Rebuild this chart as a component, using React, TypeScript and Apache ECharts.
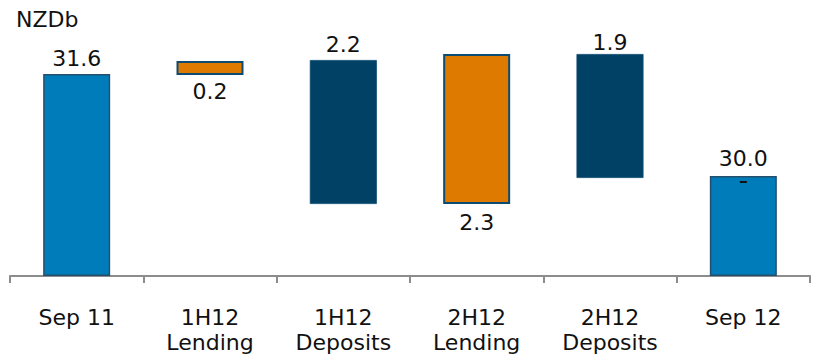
import React, { useEffect, useRef } from "react";
import * as echarts from "echarts";

// Categories (x axis)
const categories = ["Sep 11", "1H12\nLending", "1H12\nDeposits", "2H12\nLending", "2H12\nDeposits", "Sep 12"];
// Value labels shown on the bars (NZDb)
const valueLabels = ["31.6", "0.2", "2.2", "2.3", "1.9", "30.0"];
// Floating bar extents as drawn in the reference (chart units, hidden axis; axis is broken in original)
const barLow = [0, 201, 72, 72, 98, 0];
const barHigh = [202, 215, 216, 222, 222, 100];
// Kind of each bar: total, lending (decrease), deposits (increase)
const barKind = ["total", "lending", "deposits", "lending", "deposits", "total"];
// Label side for each bar and its gap
const labelSide = ["top", "bottom", "top", "bottom", "top", "top"];
const labelGap = [5, 5, 5, 7, 1, 7];

const FONT = "DejaVu Sans";
const FS = 22;

const styles: Record<string, any> = {
  total: { color: "#007CBA", borderColor: "#24506E", borderWidth: 1.5 },
  lending: { color: "#DF7A00", borderColor: "#0E4B72", borderWidth: 2 },
  deposits: { color: "#004165", borderColor: "#0A4A6E", borderWidth: 0.8 },
};

export default function App() {
  const ref = useRef<HTMLDivElement>(null);
  useEffect(() => {
    if (!ref.current) return;
    const chart = echarts.init(ref.current, undefined, { renderer: "svg" });
    const visible = barHigh.map((h, i) => ({
      value: h - barLow[i],
      itemStyle: styles[barKind[i]],
      label: {
        show: true,
        position: labelSide[i],
        distance: labelGap[i],
        formatter: valueLabels[i],
        fontFamily: FONT,
        fontSize: FS,
        color: "#111",
      },
    }));
    chart.setOption({
      animation: false,
      textStyle: { fontFamily: FONT },
      grid: {
        left: 10,
        right: 8,
        top: 10,
        bottom: 80,
        containLabel: false,
        outerBoundsMode: "none",
      },
      graphic: [
        {
          type: "text",
          left: 16,
          top: 8,
          style: { text: "NZDb", fontFamily: FONT, fontSize: FS, fill: "#111" },
        },
      ],
      xAxis: {
        type: "category",
        data: categories,
        boundaryGap: true,
        axisLine: { lineStyle: { color: "#8C8C8C", width: 2 } },
        axisTick: { show: true, length: 7, lineStyle: { color: "#8C8C8C", width: 2 } },
        axisLabel: {
          fontFamily: FONT,
          fontSize: FS,
          color: "#111",
          margin: 29,
          lineHeight: 25,
          interval: 0,
        },
      },
      yAxis: {
        type: "value",
        min: 0,
        max: 266,
        show: false,
        splitLine: { show: false },
      },
      series: [
        {
          type: "bar",
          stack: "w",
          data: barLow,
          barWidth: 67,
          itemStyle: { color: "transparent", borderWidth: 0 },
          emphasis: { disabled: true },
          silent: true,
        },
        {
          type: "bar",
          stack: "w",
          data: visible,
          barWidth: 67,
          markPoint: {
            silent: true,
            symbol: "rect",
            symbolSize: [7, 2],
            label: { show: false },
            itemStyle: { color: "#111" },
            data: [{ coord: [5, barHigh[5]], symbolOffset: [0, 6] }],
          },
        },
      ],
    });
    return () => chart.dispose();
  }, []);
  return (
    <div
      ref={ref}
      style={{ position: "absolute", left: 0, top: 0, width: 818, height: 356 }}
    />
  );
}
